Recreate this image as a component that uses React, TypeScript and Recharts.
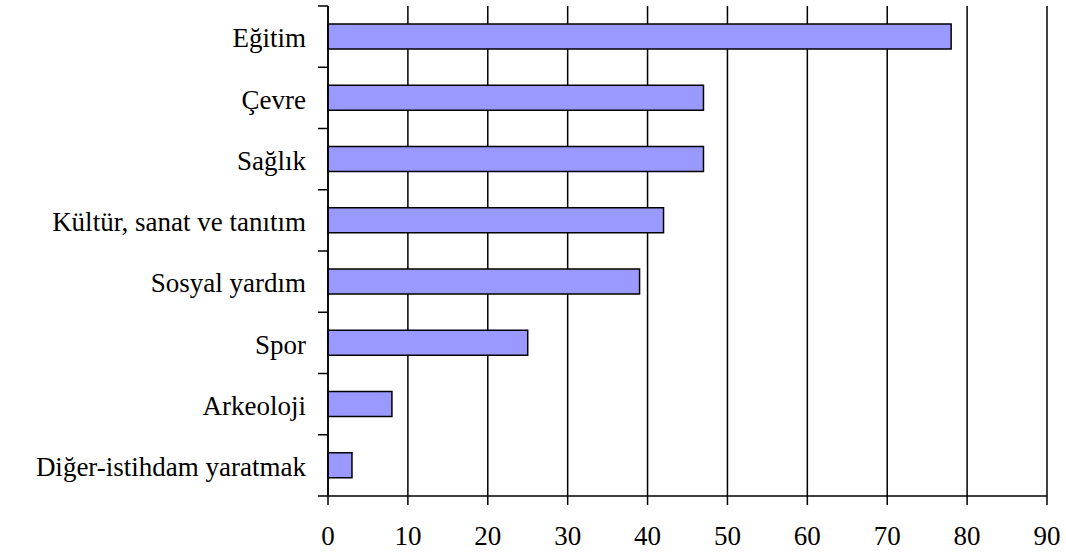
import { BarChart, Bar, XAxis, YAxis, CartesianGrid } from "recharts";

const categories = [
  "Eğitim",
  "Çevre",
  "Sağlık",
  "Kültür, sanat ve tanıtım",
  "Sosyal yardım",
  "Spor",
  "Arkeoloji",
  "Diğer-istihdam yaratmak",
];
const values = [78, 47, 47, 42, 39, 25, 8, 3];
const xTicks = [0, 10, 20, 30, 40, 50, 60, 70, 80, 90];

const data = categories.map((name, i) => ({ name, value: values[i] }));

const W = 1066;
const H = 554;
const MARGIN = { top: 6, right: 19, left: 0, bottom: 0 };
const Y_WIDTH = 328;
const X_HEIGHT = 58;
const FONT = "Liberation Serif";
const band = (H - MARGIN.top - MARGIN.bottom - X_HEIGHT) / categories.length;

// y tick: label at band centre, short tick marks at band boundaries (like Excel)
const YTick = (props: any) => {
  const { x, y, payload, index } = props;
  const axisX = x + 22;
  const last = index === categories.length - 1;
  return (
    <g>
      <line x1={axisX - 10} x2={axisX} y1={y - band / 2} y2={y - band / 2} stroke="#000" strokeWidth={1.5} />
      {last && (
        <line x1={axisX - 10} x2={axisX} y1={y + band / 2} y2={y + band / 2} stroke="#000" strokeWidth={1.5} />
      )}
      <text x={x} y={y} dy="0.4em" textAnchor="end" fontFamily={FONT} fontSize={27} fill="#000">
        {payload.value}
      </text>
    </g>
  );
};

export default function App() {
  return (
    <div style={{ position: "absolute", left: 0, top: 0, background: "#fff", fontFamily: FONT }}>
      <BarChart width={W} height={H} data={data} layout="vertical" margin={MARGIN} barSize={25}>
        <CartesianGrid horizontal={false} stroke="#000" strokeWidth={1.5} />
        <XAxis
          type="number"
          domain={[0, 90]}
          ticks={xTicks}
          interval={0}
          height={X_HEIGHT}
          stroke="#000"
          strokeWidth={1.5}
          tickSize={9}
          tickMargin={21}
          tick={{ fontFamily: FONT, fontSize: 27, fill: "#000" }}
        />
        <YAxis
          type="category"
          dataKey="name"
          width={Y_WIDTH}
          stroke="#000"
          strokeWidth={1.5}
          tickLine={false}
          tickSize={10}
          tickMargin={12}
          interval={0}
          tick={<YTick />}
        />
        <Bar dataKey="value" fill="#9999FF" stroke="#000" strokeWidth={1.5} isAnimationActive={false} />
      </BarChart>
    </div>
  );
}
